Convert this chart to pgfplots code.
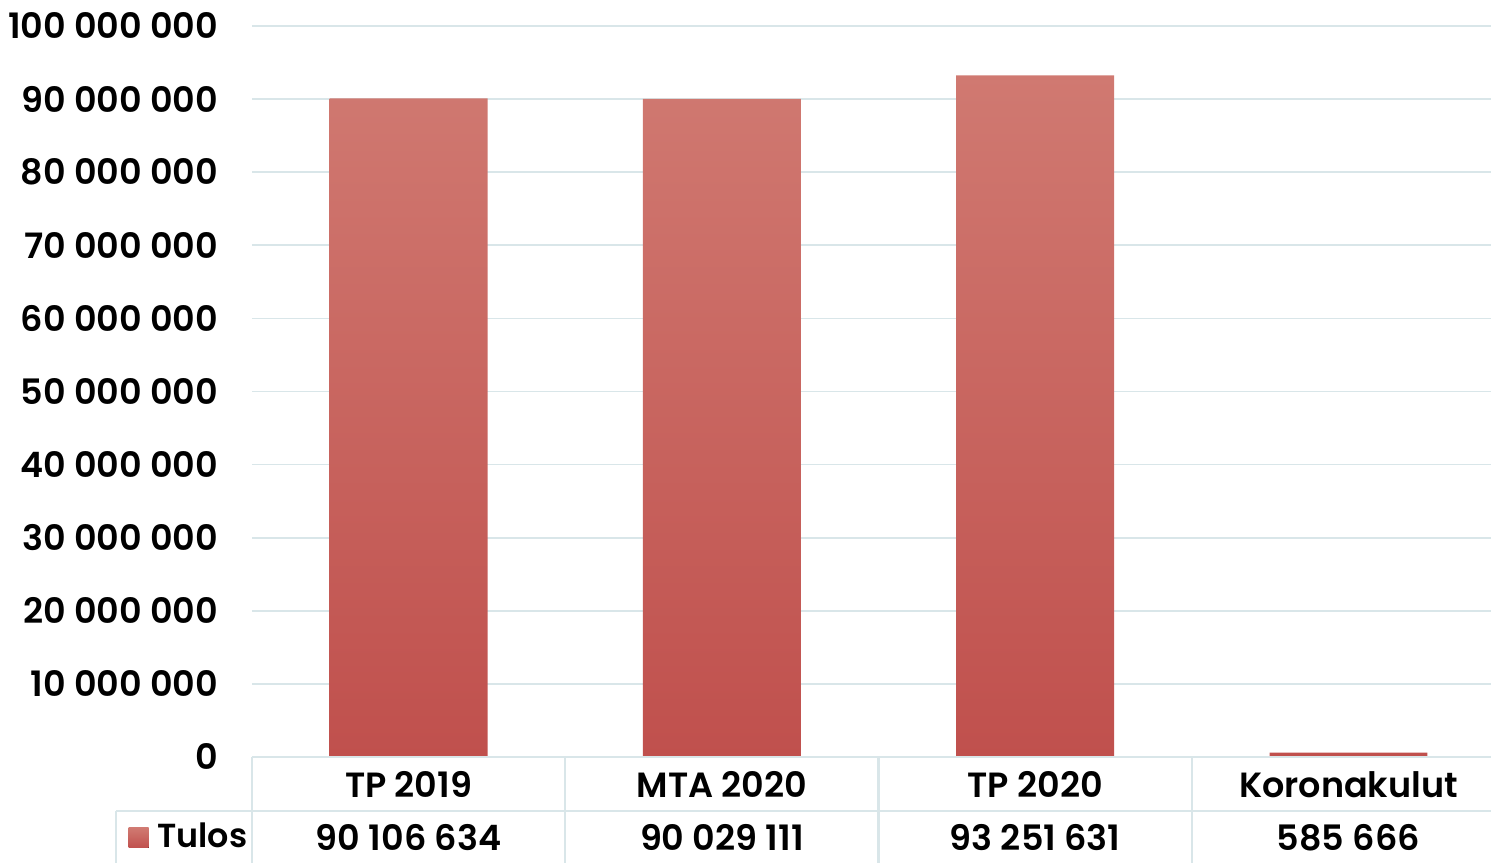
\documentclass[border=0pt]{standalone}
\usepackage{fontspec}
\setmainfont{Poppins}[BoldFont={Poppins SemiBold}]
\usepackage{pgfplots}
\pgfplotsset{compat=1.18}
\definecolor{gridc}{RGB}{217,230,233}
\definecolor{bartop}{RGB}{208,121,113}
\definecolor{barbot}{RGB}{192,80,77}
\definecolor{txt}{RGB}{13,18,20}

\begin{document}
\begin{tikzpicture}[font=\bfseries\color{txt}]
\begin{axis}[
  scale only axis, width=371.7pt, height=219.3pt,
  xmin=-0.5, xmax=3.455, ymin=0, ymax=100000000,
  ybar, bar width=0.504, clip=false,
  xtick={0,1,2,3},
  xticklabels={{TP 2019\\90 106 634},{MTA 2020\\90 029 111},{TP 2020\\93 251 631},{Koronakulut\\585 666}},
  xticklabel style={anchor=center, yshift=-16.2pt, align=center, font=\fontsize{10.5}{15.9}\selectfont\bfseries},
  ytick={0,10000000,...,100000000},
  scaled y ticks=false,
  yticklabel style={font=\fontsize{10.5}{13}\selectfont\bfseries, xshift=-6.6pt,
    /pgf/number format/.cd, fixed, precision=0, 1000 sep={\ }, assume math mode=true},
  major tick length=0pt,
  axis line style={draw=none},
  ymajorgrids, grid style={gridc, line width=0.5pt},
  legend style={draw=none, fill=none, inner sep=0pt, at={(rel axis cs:0,0)}, anchor=west,
    xshift=-37.2pt, yshift=-24.3pt, font=\fontsize{10}{13}\selectfont\bfseries,
    nodes={inner xsep=2.6pt}},
  legend image code/.code={\fill[top color=bartop, bottom color=barbot] (0pt,-3pt) rectangle (6pt,3pt);},
]
\addplot[draw=none, top color=bartop, bottom color=barbot] coordinates {(0,90106634) (1,90029111) (2,93251631) (3,585666)};
\legend{Tulos}
\coordinate (bl) at (rel axis cs:0,0);
\draw[gridc, line width=0.7pt] (axis cs:-0.5,0) -- (rel axis cs:1,0);
\draw[gridc, line width=0.7pt] ([xshift=-40.8pt,yshift=-16.2pt]rel axis cs:0,0) -- ([yshift=-16.2pt]rel axis cs:1,0);
\draw[gridc, line width=0.7pt] ([xshift=-40.8pt,yshift=-16.2pt]rel axis cs:0,0) -- ([xshift=-40.8pt,yshift=-40pt]rel axis cs:0,0);
\pgfplotsinvokeforeach{-0.5,0.5,1.5,2.5}{
  \draw[gridc, line width=0.7pt] (axis cs:#1,0) -- ([yshift=-40pt]axis cs:#1,0);
}
\end{axis}
\pgfresetboundingbox
\path ([xshift=-75.6pt,yshift=-31.8pt]bl) rectangle ([xshift=371.7pt,yshift=227.1pt]bl);
\end{tikzpicture}
\end{document}
